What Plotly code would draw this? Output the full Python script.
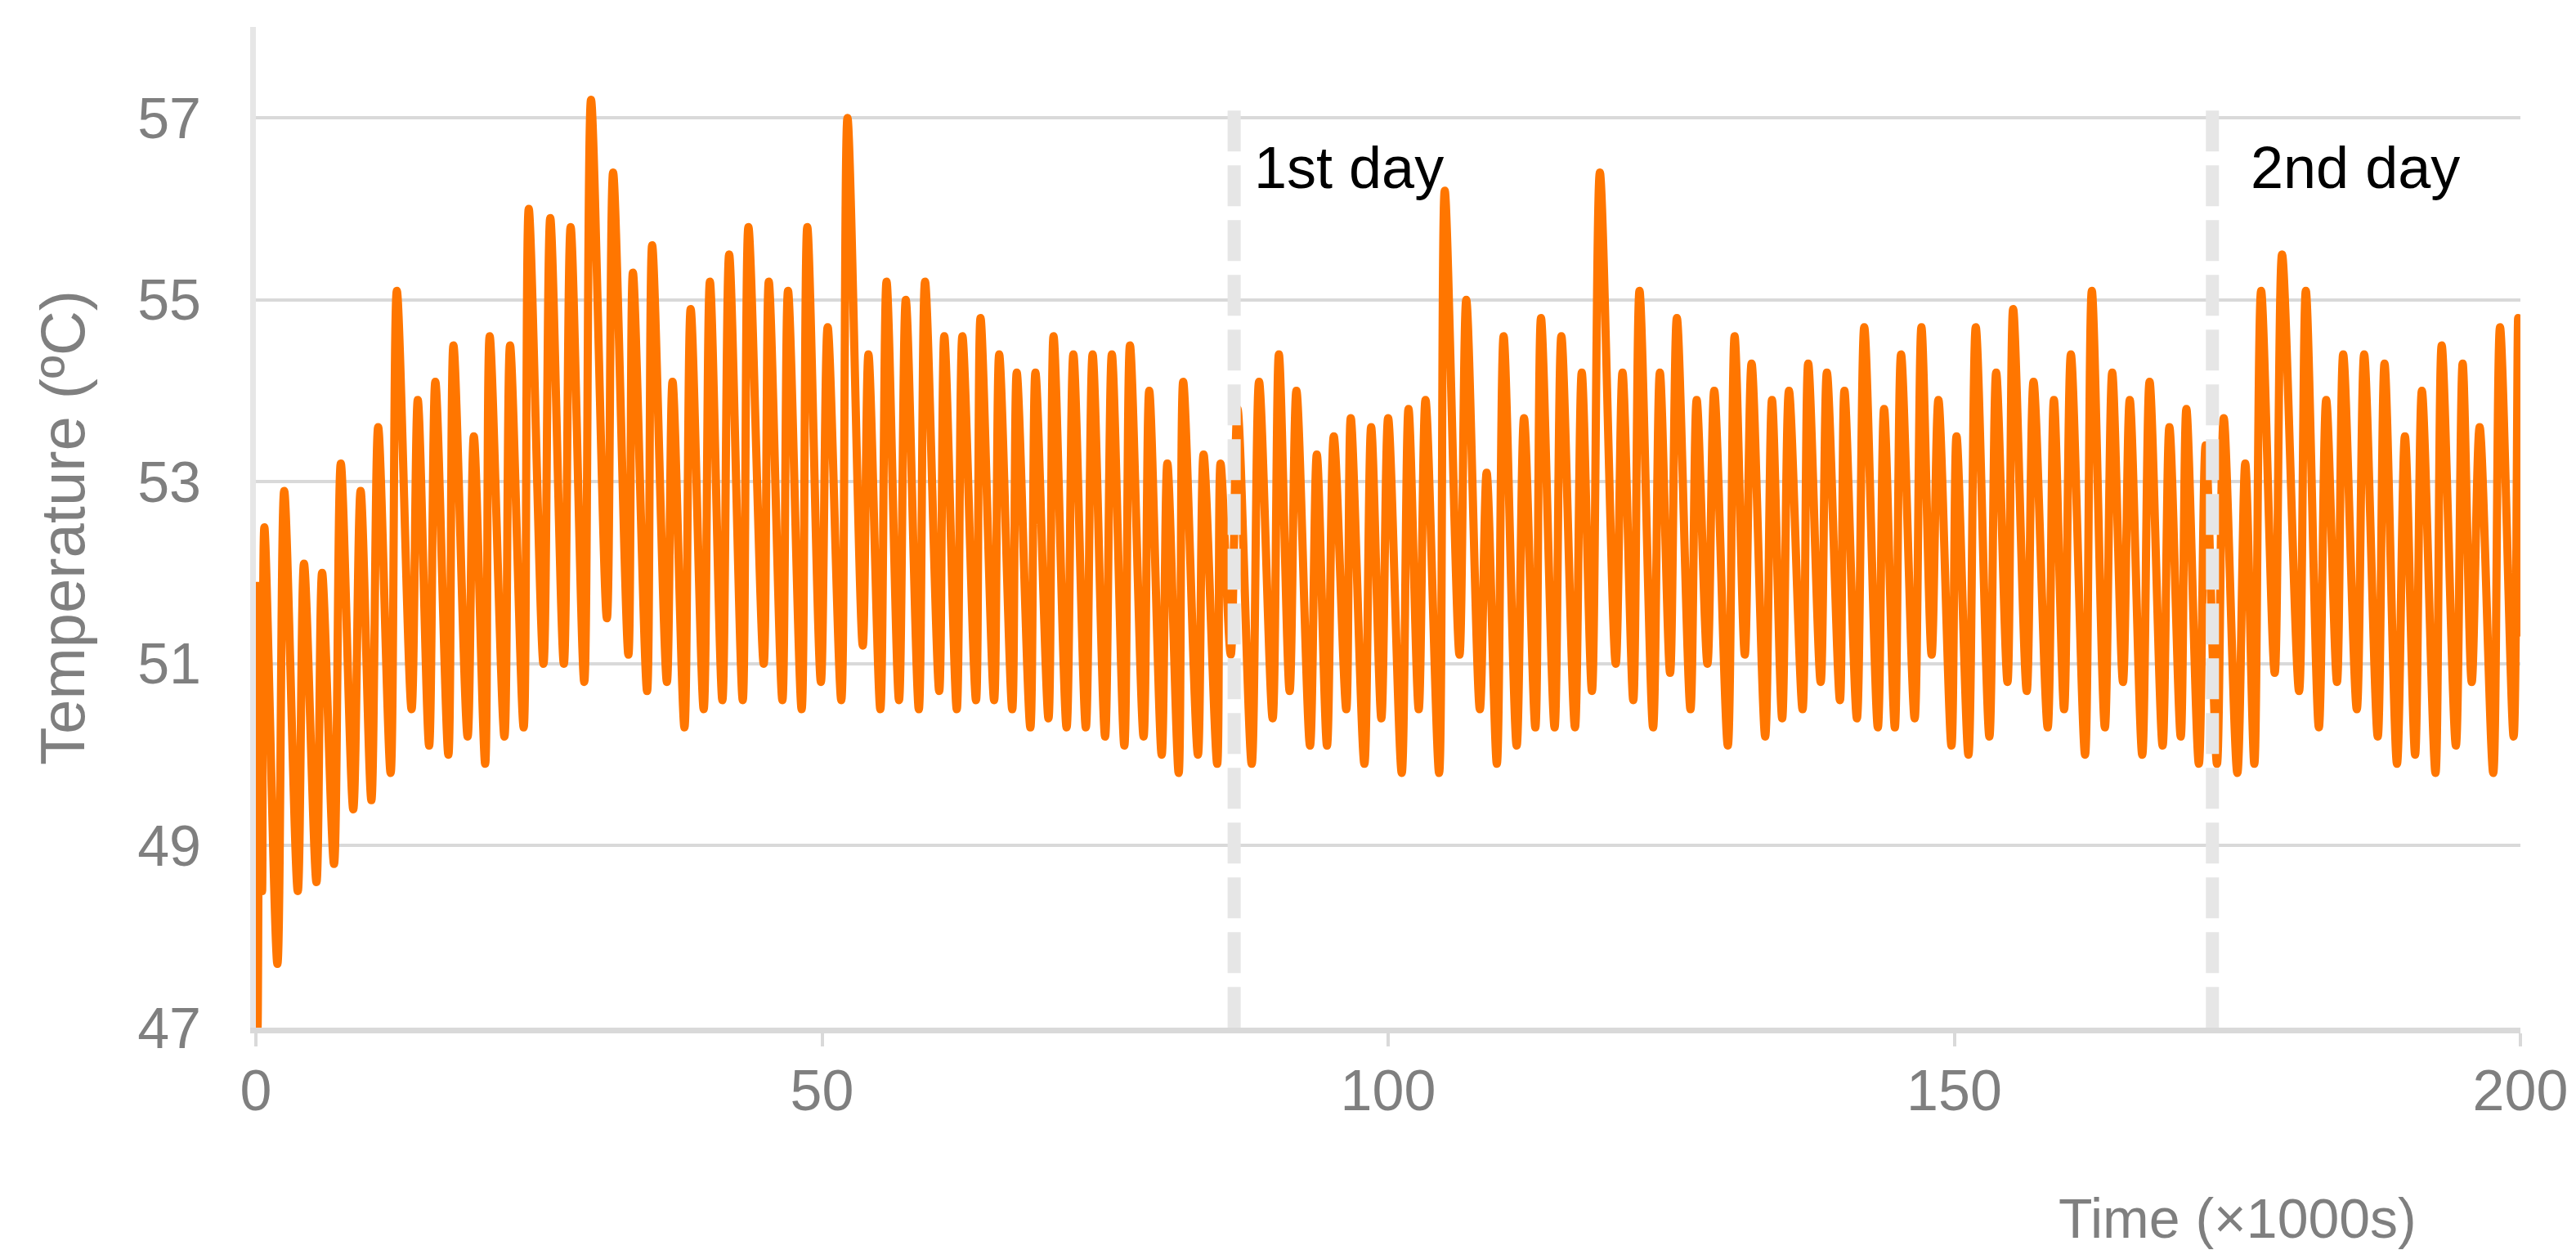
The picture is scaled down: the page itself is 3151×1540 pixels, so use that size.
import plotly.graph_objects as go

# Temperature trace: turning points (troughs / peaks).
# time in thousands of seconds
time_ks = [
    0.0, 0.15, 0.35, 0.55, 0.75, 1.9, 2.5, 3.7, 4.25, 5.35, 5.85, 6.9, 7.5, 8.6,
    9.25, 10.2, 10.8, 11.9, 12.45, 13.75, 14.3, 15.3, 15.85, 17.0, 17.45, 18.7,
    19.25, 20.25, 20.65, 21.95, 22.45, 23.65, 24.1,
    25.4, 26.0, 27.2, 27.8, 29.0, 29.6, 31.0, 31.55, 32.9, 33.3, 34.55, 35.0,
    36.3, 36.8, 37.85, 38.4, 39.55, 40.1, 41.2, 41.8, 43.0, 43.5, 44.85, 45.3,
    46.5, 47.0, 48.2, 48.7, 49.9,
    50.5, 51.7, 52.25, 53.6, 54.1, 55.15, 55.7, 56.8, 57.4, 58.55, 59.1, 60.35,
    60.8, 61.9, 62.4, 63.6, 64.0, 65.2, 65.65, 66.8, 67.2, 68.4, 68.85, 70.0,
    70.45, 71.6, 72.2, 73.3, 73.9, 75.0,
    75.6, 76.7, 77.2, 78.4, 78.9, 80.0, 80.5, 81.5, 81.9, 83.2, 83.7, 84.9,
    85.2, 86.1, 86.7, 87.95, 88.6, 89.8, 90.35, 91.3, 91.9, 93.1, 93.7, 94.6,
    95.2, 96.3, 96.7, 97.9, 98.5, 99.4, 100.0,
    101.2, 101.8, 102.7, 103.3, 104.5, 105.0, 106.3, 106.9, 108.1, 108.7,
    109.6, 110.2, 111.35, 112.0, 113.0, 113.5, 114.7, 115.3, 116.5, 117.1,
    118.0, 118.7, 120.1, 120.7, 121.65, 122.2, 123.4, 124.0, 124.9, 125.5,
    126.7, 127.25, 128.2, 128.8, 130.0, 130.6, 131.5, 132.1, 133.3, 133.9,
    134.8, 135.4, 136.6, 137.1, 138.2, 138.75, 139.9, 140.3, 141.4, 142.05,
    143.25, 143.8, 144.75, 145.3, 146.5, 147.1, 148.0, 148.6, 149.75, 150.2,
    151.25,
    151.9, 153.1, 153.7, 154.7, 155.2, 156.4, 157.0, 158.25, 158.8, 159.7,
    160.3, 161.55, 162.15, 163.3, 163.95, 164.9, 165.5, 166.6, 167.25, 168.4,
    169.0, 170.0, 170.5, 171.6, 172.2, 173.2, 173.8, 175.0, 175.7, 176.5,
    177.1, 178.3, 178.95, 180.45, 181.05, 182.2, 182.85, 183.8, 184.35, 185.55,
    186.2, 187.4, 188.0, 189.1, 189.8, 190.7, 191.3, 192.5, 193.05, 194.3,
    194.9, 195.7, 196.4, 197.6, 198.2, 199.4, 199.8, 200.0,
]
temp_c = [
    51.9, 47.0, 51.6, 48.5, 52.5, 47.7, 52.9, 48.5, 52.1, 48.6, 52.0, 48.8, 53.2, 49.4,
    52.9, 49.5, 53.6, 49.8, 55.1, 50.5, 53.9, 50.1, 54.1, 50.0, 54.5, 50.2,
    53.5, 49.9, 54.6, 50.2, 54.5, 50.3, 56.0,
    51.0, 55.9, 51.0, 55.8, 50.8, 57.2, 51.5, 56.4, 51.1, 55.3, 50.7, 55.6,
    50.8, 54.1, 50.3, 54.9, 50.5, 55.2, 50.6, 55.5, 50.6, 55.8, 51.0, 55.2,
    50.6, 55.1, 50.5, 55.8, 50.8,
    54.7, 50.6, 57.0, 51.2, 54.4, 50.5, 55.2, 50.6, 55.0, 50.5, 55.2, 50.7,
    54.6, 50.5, 54.6, 50.6, 54.8, 50.6, 54.4, 50.5, 54.2, 50.3, 54.2, 50.4,
    54.6, 50.3, 54.4, 50.3, 54.4, 50.2,
    54.4, 50.1, 54.5, 50.2, 54.0, 50.0, 53.2, 49.8, 54.1, 50.0, 53.3, 49.9,
    53.2, 51.1, 53.8, 49.9, 54.1, 50.4, 54.4, 50.7, 54.0, 50.1, 53.3, 50.1,
    53.5, 50.5, 53.7, 49.9, 53.6, 50.4, 53.7,
    49.8, 53.8, 50.5, 53.9, 49.8, 56.2, 51.1, 55.0, 50.5, 53.1,
    49.9, 54.6, 50.1, 53.7, 50.3, 54.8, 50.3, 54.6, 50.3, 54.2,
    50.7, 56.4, 51.0, 54.2, 50.6, 55.1, 50.3, 54.2, 50.9, 54.8,
    50.5, 53.9, 51.0, 54.0, 50.1, 54.6, 51.1, 54.3, 50.2, 53.9,
    50.4, 54.0, 50.5, 54.3, 50.8, 54.2, 50.6, 54.0, 50.4, 54.7,
    50.3, 53.8, 50.3, 54.4, 50.4, 54.7, 51.1, 53.9, 50.1, 53.5,
    50.0,
    54.7, 50.2, 54.2, 50.8, 54.9, 50.7, 54.1, 50.3, 53.9, 50.5,
    54.4, 50.0, 55.1, 50.3, 54.2, 50.8, 53.9, 50.0, 54.1, 50.1,
    53.6, 50.2, 53.8, 49.9, 53.4, 49.9, 53.7, 49.8, 53.2, 49.9,
    55.1, 50.9, 55.5, 50.7, 55.1, 50.3, 53.9, 50.8, 54.4, 50.5,
    54.4, 50.2, 54.3, 49.9, 53.5, 50.0, 54.0, 49.8, 54.5, 50.1,
    54.3, 50.8, 53.6, 49.8, 54.7, 50.2, 54.8, 51.3,
]

day_marks = [86.4, 172.8]
day_labels = ["1st day", "2nd day"]
day_label_x = [88.0, 176.0]

x_ticks = [0, 50, 100, 150, 200]
y_ticks = [47, 49, 51, 53, 55, 57]

FONT = "Liberation Sans, Arial, sans-serif"
GREY = "#7f7f7f"

fig = go.Figure()

fig.add_trace(go.Scatter(
    x=time_ks,
    y=temp_c,
    mode="lines",
    line=dict(color="#ff7600", width=10, shape="spline", smoothing=0.9),
    showlegend=False,
))

# dashed day separators, drawn over the trace
for d in day_marks:
    fig.add_shape(
        type="line", xref="x", yref="y",
        x0=d, x1=d, y0=57.08, y1=47,
        line=dict(color="#e6e6e6", width=16, dash="50px,17px"),
        layer="above",
    )

for d, lab in zip(day_label_x, day_labels):
    fig.add_annotation(
        x=d, y=56.45, xref="x", yref="y", text=lab, showarrow=False,
        xanchor="left", yanchor="middle",
        font=dict(family=FONT, size=72, color="black"),
    )

fig.add_annotation(
    x=0.875, y=-0.19, xref="paper", yref="paper", text="Time (×1000s)",
    showarrow=False, xanchor="center", yanchor="middle",
    font=dict(family=FONT, size=68, color=GREY),
)
fig.add_annotation(
    x=-0.0856, y=0.5, xref="paper", yref="paper", text="Temperature (ºC)",
    showarrow=False, xanchor="center", yanchor="middle", textangle=-90,
    font=dict(family=FONT, size=76, color=GREY),
)

fig.update_layout(
    width=3151,
    height=1540,
    margin=dict(l=305, r=76, t=25, b=291),
    paper_bgcolor="white",
    plot_bgcolor="white",
    font=dict(family=FONT, color=GREY),
)
fig.update_xaxes(
    range=[0, 200],
    tickvals=x_ticks,
    showgrid=False,
    zeroline=False,
    showline=True,
    linecolor="#d9d9d9",
    linewidth=7,
    ticks="outside",
    ticklen=16,
    tickwidth=4,
    tickcolor="#d9d9d9",
    tickfont=dict(family=FONT, size=70, color=GREY),
    ticklabelstandoff=-6,
    layer="below traces",
)
fig.update_yaxes(
    range=[47, 58],
    tickvals=y_ticks,
    showgrid=True,
    gridcolor="#d9d9d9",
    gridwidth=3.5,
    zeroline=False,
    showline=True,
    linecolor="#e6e6e6",
    linewidth=7,
    ticks="",
    tickfont=dict(family=FONT, size=70, color=GREY),
    ticklabelstandoff=46,
    layer="below traces",
)

fig.write_html("out.html")
